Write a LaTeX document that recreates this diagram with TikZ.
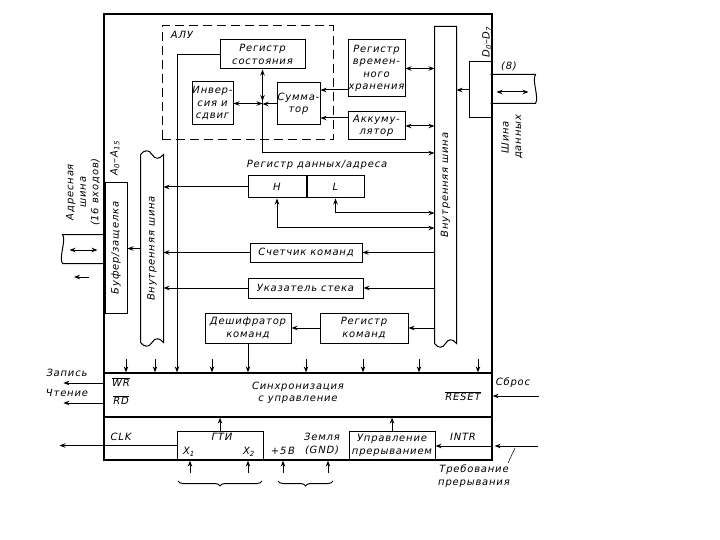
\documentclass[tikz,border=0pt]{standalone}
\usepackage{fontspec}
\setmainfont{DejaVu Sans}[LetterSpace=8]
\usepackage{graphicx}
\usetikzlibrary{arrows.meta,calc,decorations.pathreplacing}

\begin{document}
\begin{tikzpicture}[x=1pt, y=-1pt, line width=1pt, >={Stealth[length=6pt,width=4.5pt]},
  every node/.style={font=\itshape\fontsize{10}{12.5}\selectfont, inner sep=1pt},
  blk/.style={draw, align=center, inner sep=0pt},
  bus/.style={inner sep=0pt}]
\useasboundingbox (0,0) rectangle (720,540);

% chip outline and control band
\node[draw, line width=1.2pt, minimum width=388pt, minimum height=446pt, inner sep=0pt] (chip) at (298,237) {};
\node[draw, line width=1.2pt, minimum width=388pt, minimum height=44pt, inner sep=0pt] (sync) at (298,395) {};

% ALU
\node[draw, dash pattern=on 9pt off 5pt, minimum width=171pt, minimum height=114pt] (alu) at (247.5,83) {};
\node (alulabel) at (182,35) {АЛУ};
\node[blk, minimum width=85pt, minimum height=29pt] (flags) at (262.5,54.5) {Регистр\\состояния};
\node[blk, minimum width=41pt, minimum height=43pt] (shift) at (212.5,103.5) {Инвер-\\сия и\\сдвиг};
\node[blk, minimum width=43pt, minimum height=42pt] (adder) at (298.5,104) {Сумма-\\тор};
\node[blk, minimum width=57pt, minimum height=57pt] (tmp) at (376.5,68.5) {Регистр\\времен-\\ного\\хранения};
\node[blk, minimum width=57pt, minimum height=28pt] (acc) at (376.5,126) {Аккуму-\\лятор};

% internal buses
\node[bus, minimum width=21pt, minimum height=316pt] (rbus) at (445.5,185) {\rotatebox{90}{Внутренняя шина}};
\draw (rbus.south west) -- (rbus.north west) -- (rbus.north east) -- (rbus.south east)
  .. controls +(-4,-5) and +(3,-5) .. (rbus.south) .. controls +(-3,5) and +(4,5) .. (rbus.south west);
\node[bus, minimum width=22pt, minimum height=187pt] (lbus) at (152,248.5) {\rotatebox{90}{Внутренняя шина}};
\draw (lbus.south west) -- (lbus.north west)
  .. controls +(4,-5) and +(-3,-5) .. (lbus.north) .. controls +(3,5) and +(-4,5) .. (lbus.north east)
  -- (lbus.south east)
  .. controls +(-4,-5) and +(3,-5) .. (lbus.south) .. controls +(-3,5) and +(4,5) .. (lbus.south west);

% data bus side
\node[blk, minimum width=22pt, minimum height=56pt] (rbuf) at (480,90) {};
\node (dlabel) at (487,42) {\rotatebox{90}{D\textsubscript{0}--D\textsubscript{7}}};
\node[bus, minimum width=44pt, minimum height=28pt] (dbus) at (513,89) {};
\draw (dbus.north west) -- (dbus.north east) .. controls +(-4,6) and +(4,-6) .. (dbus.south east) -- (dbus.south west);
\draw[<->] ($(dbus.west)+(6,3)$) -- ($(dbus.east)+(-7,3)$);
\node (dwidth) at (509,66) {(8)};
\node[rotate=90, align=center] (dbuslabel) at (512,137) {Шина\\данных};
\draw[->] (rbuf.west) -- (rbuf.west -| rbus.east);

% address bus side
\node[blk, minimum width=22pt, minimum height=130pt] (lbuf) at (116,248) {\rotatebox{90}{Буфер/защелка}};
\node (alabel) at (115,158) {\rotatebox{90}{A\textsubscript{0}--A\textsubscript{15}}};
\node[bus, minimum width=42pt, minimum height=28pt] (abus) at (84,249) {};
\draw (abus.north east) -- (abus.north west) .. controls +(4,6) and +(-4,-6) .. (abus.south west) -- (abus.south east);
\draw[<->] ($(abus.west)+(7,1)$) -- ($(abus.east)+(-8,1)$);
\node[rotate=90, align=center] (abuslabel) at (83,192) {Адресная\\шина\\(16 входов)};
\coordinate (aout) at (89,277);
\draw[->] (aout) -- ++(-15,0);
\draw[->] (lbus.west) -- (lbus.west -| lbuf.east);

% ALU connections
\coordinate (aluout) at (flags.south |- 0,153);
\draw[->] (flags.west) -| (sync.north -| 177,0);
\draw[<->] (flags.south) -- (aluout) -- (aluout -| rbus.west);
\draw[->] (flags.south |- 0,88) -- (flags.south |- 0,101);
\draw[<->] (shift.east) -- (shift.east -| aluout);
\draw[->] (adder.west) -- (adder.west -| aluout);
\coordinate (tmpout) at (tmp.west |- 0,90);
\coordinate (accout) at (acc.west |- 0,118);
\draw[->] (tmpout) -- (tmpout -| adder.east);
\draw[->] (accout) -- (accout -| adder.east);
\draw[<->] (tmp.east) -- (tmp.east -| rbus.west);
\draw[<->] (acc.east) -- (acc.east -| rbus.west);

% registers
\node (rdlabel) at (317,165) {Регистр данных/адреса};
\node[blk, minimum width=58pt, minimum height=22pt] (rh) at (277,187) {H};
\node[blk, minimum width=57pt, minimum height=22pt, anchor=west] (rl) at (rh.east) {L};
\draw[->] (rh.west) -- (rh.west -| lbus.east);
\coordinate (hline) at (rh.south |- 0,228);
\coordinate (lline) at (rl.south |- 0,213);
\draw[<->] (rh.south) -- (hline) -- (hline -| rbus.west);
\draw[<->] (rl.south) -- (lline) -- (lline -| rbus.west);

\node[blk, minimum width=112pt, minimum height=19pt] (pc) at (306,252.5) {Счетчик команд};
\node[blk, minimum width=115pt, minimum height=20pt] (sp) at (305.5,288) {Указатель стека};
\draw[->] (rbus.west |- pc.east) -- (pc.east);
\draw[->] (rbus.west |- sp.east) -- (sp.east);
\draw[->] (pc.west) -- (pc.west -| lbus.east);
\draw[->] (sp.west) -- (sp.west -| lbus.east);

\node[blk, minimum width=86pt, minimum height=30pt] (dec) at (248,328) {Дешифратор\\команд};
\node[blk, minimum width=88pt, minimum height=30pt] (ir) at (364,328) {Регистр\\команд};
\draw[->] (rbus.west |- ir.east) -- (ir.east);
\draw[->] (ir.west) -- (dec.east);
\draw[->] (dec.south) -- (dec.south |- sync.north);
\foreach \x in {126,155,212,306,363,419,478}
  \draw[->] (\x,359) -- (sync.north -| \x,0);

% synchronisation and control
\node (wr) at (121,382) {$\overline{\mbox{WR}}$};
\node (rd) at (121,400) {$\overline{\mbox{RD}}$};
\node[align=center] (synctext) at (298,393) {Синхронизация\\с управление};
\node (reset) at (463,396) {$\overline{\mbox{RESET}}$};
\node (write) at (67,373) {Запись};
\node (read) at (67,393) {Чтение};
\draw[->] (chip.west |- 0,383) -- ++(-40,0);
\draw[->] (chip.west |- 0,403) -- ++(-40,0);
\node (resetin) at (513,383) {Сброс};
\draw[<-] (chip.east |- 0,396) -- ++(46,0);

% clock and interrupts
\node (clk) at (121,437) {CLK};
\node[blk, minimum width=86pt, minimum height=29pt] (gti) at (220,445.5) {};
\node (gtilabel) at (222,437) {ГТИ};
\node (x1) at (189,452) {X\textsubscript{1}};
\node (x2) at (249,452) {X\textsubscript{2}};
\draw[->] (gti.west) -- ++(-117,0);
\draw[->] (gti.north) -- (gti.north |- sync.south);
\node (vcc) at (283,451) {+5\,В};
\node[align=center] (gnd) at (322,444) {Земля\\(GND)};
\node[blk, minimum width=86pt, minimum height=29pt] (intc) at (392,445.5) {Управление\\прерыванием};
\draw[->] (intc.north) -- (intc.north |- sync.south);
\node (intr) at (463,437) {INTR};
\coordinate (intin) at (538,446);
\draw[->] (intin) -- ($(chip.east |- intin)+(2,0)$);
\draw[->] (chip.east |- intin) -- (intc.east |- intin);
\node[align=center] (intreq) at (474,476) {Требование\\прерывания};
\draw[line width=0.5pt] (508,463) -- (515,448);
\foreach \x in {190,248,283,328}
  \draw[->] (\x,473) -- (chip.south -| \x,0);
\draw[decorate, decoration={brace, mirror, amplitude=5pt}] (178,481) -- (262,481);
\draw[decorate, decoration={brace, mirror, amplitude=5pt}] (278,481) -- (333,481);
\end{tikzpicture}
\end{document}
